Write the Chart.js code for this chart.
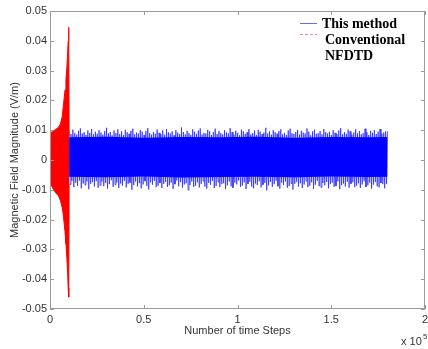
<!DOCTYPE html>
<html>
<head>
<meta charset="utf-8">
<script src="https://cdn.jsdelivr.net/npm/chart.js@4.4.0/dist/chart.umd.min.js"></script>
<style>
  html, body { margin: 0; padding: 0; background: #fff; }
  #wrap { width: 428px; height: 349px; }
</style>
</head>
<body>
<div id="wrap"><canvas id="field"></canvas></div>
<script>
// All field values below are in 1e-3 V/m
const blueStart = 10200;
const blueEnd = 180000;

// peak values of each oscillation of "This method" (upper / lower)
const bluePeaksUp = [
  9.4, 8.7, 10.2, 9.0, 8.5, 9.8, 10.6, 8.9, 9.3, 8.4, 9.9, 9.1, 10.4, 8.6, 9.5, 8.8, 10.0,
  9.2, 8.5, 9.7, 10.8, 8.9, 9.4, 8.3, 9.9, 9.0, 10.3, 8.7, 9.6, 8.4, 10.1, 9.3, 8.8, 9.8,
  10.5, 8.6, 9.2, 8.9, 10.0, 9.5, 8.4, 9.7, 10.7, 9.0, 8.5, 9.4, 8.8, 10.2, 9.1, 8.7, 9.9,
  8.5, 10.4, 9.3, 8.9, 9.6, 8.3, 10.0, 9.2, 8.7, 10.9, 9.4, 8.6, 9.8, 9.0, 8.4, 10.3, 9.5,
  8.8, 9.9, 10.6, 8.5, 9.1, 8.9, 10.1, 9.6, 8.4, 9.3, 10.5, 8.7, 9.7, 9.0, 8.6, 10.0, 9.2,
  8.9, 10.7, 9.4, 8.5, 9.8, 9.1, 8.3, 10.2, 9.6, 8.8, 9.3, 10.4, 8.6, 9.0, 9.9, 8.4, 10.1,
  9.5, 8.7, 9.2, 10.8, 8.9, 9.6, 8.5, 10.0, 9.3, 8.8, 9.7, 10.3, 8.6, 9.1, 8.4, 9.9, 10.5,
  9.0, 8.7, 9.4, 10.1, 8.5, 9.8, 9.2, 8.9, 10.6, 9.5, 8.3, 9.6, 10.2, 8.8, 9.0, 9.7, 8.6,
  10.4, 9.3, 8.9, 9.5, 8.4, 10.0, 9.1, 8.7, 9.9, 10.7, 8.6, 9.4, 8.8, 10.2, 9.6, 8.5, 9.2,
  10.3, 8.9, 9.7, 8.6, 9.0, 10.5, 9.3, 8.4, 9.8, 9.1, 10.0, 8.7, 9.5, 10.4, 8.8, 9.2, 9.6,
];
const bluePeaksDown = [
  -8.2, -7.0, -9.1, -7.6, -8.7, -6.9, -9.5, -7.9, -8.4, -7.2, -9.8, -8.0, -7.4, -8.9, -7.1, -9.3, -8.5,
  -7.3, -8.8, -7.7, -9.6, -8.1, -6.8, -9.0, -8.3, -7.5, -9.4, -7.9, -8.6, -7.0, -9.2, -8.0, -7.6, -10.0,
  -8.4, -7.2, -8.9, -7.8, -9.5, -8.2, -7.1, -8.7, -9.9, -7.5, -8.3, -7.0, -9.1, -8.6, -7.7, -9.4, -8.0,
  -7.3, -9.0, -8.5, -7.6, -9.7, -8.1, -6.9, -8.8, -7.4, -9.3, -8.2, -7.8, -10.1, -8.4, -7.2, -9.0, -8.6,
  -7.5, -9.2, -8.0, -7.1, -8.9, -9.6, -7.7, -8.3, -7.0, -9.4, -8.7, -7.4, -9.1, -8.1, -7.8, -9.8, -8.5,
  -7.2, -8.8, -9.3, -7.6, -8.2, -6.9, -9.0, -8.6, -7.5, -9.7, -8.0, -7.3, -8.9, -9.5, -7.9, -8.4, -7.1,
  -9.2, -8.3, -7.7, -10.2, -8.5, -7.4, -9.0, -8.1, -7.0, -8.8, -9.6, -7.6, -8.4, -7.2, -9.3, -8.7, -7.9,
  -9.9, -8.0, -7.3, -8.9, -7.8, -9.4, -8.2, -7.1, -9.1, -8.6, -7.5, -9.7, -8.3, -7.0, -8.8, -9.2, -7.7,
  -8.5, -7.4, -9.5, -8.1, -7.6, -9.0, -8.7, -7.2, -9.8, -8.4, -7.9, -8.9, -7.3, -9.3, -8.0, -7.5, -9.1,
  -8.6, -7.8, -9.4, -8.2, -7.1, -9.0, -8.5, -7.6, -9.6, -8.3, -7.4, -8.8, -9.2, -7.7, -8.1, -9.5, -8.0,
];

// solid core of the blue band
const blueCoreX = [10200, 30000, 50000, 70000, 90000, 110000, 130000, 150000, 170000, 180000];
const blueCoreUp = [7.6, 7.8, 7.5, 7.7, 7.6, 7.8, 7.5, 7.7, 7.6, 7.7];
const blueCoreDown = [-5.6, -5.8, -5.5, -5.9, -5.7, -5.6, -5.8, -5.5, -5.7, -5.6];

// envelope of "Conventional NFDTD"
const redX = [0, 1500, 3000, 4500, 5500, 6500, 7000, 7500, 8000, 8500, 9000, 9400, 9700, 10000, 10200];
const redUp = [9.0, 9.6, 10.2, 11.0, 12.0, 14.5, 17.5, 20.5, 23.5, 27, 31, 36, 40, 44.5, 8];
const redDown = [-7.5, -9.5, -11, -12, -13.5, -16, -18, -21, -24, -28, -33, -38, -43, -46, -8];

const xTickValues = [0, 50000, 100000, 150000, 200000];

const k = 1e-3;
const pts = (xs, ys) => xs.map((x, i) => ({ x, y: ys[i] * k }));

// one line through every upper and lower peak
function oscillation() {
  const n = bluePeaksUp.length;
  const step = (blueEnd - blueStart) / n;
  const out = [];
  for (let i = 0; i < n; i++) {
    out.push({ x: blueStart + i * step, y: bluePeaksUp[i] * k });
    out.push({ x: blueStart + (i + 0.5) * step, y: bluePeaksDown[i] * k });
  }
  out.push({ x: blueEnd, y: bluePeaksUp[n - 1] * k });
  return out;
}

const flat = { pointRadius: 0, tension: 0, borderWidth: 0 };

// no automatic room for the outer tick labels (the last one is clipped, as in the original)
const noEdgePadding = (s) => {
  s.paddingLeft = 0; s.paddingRight = 0; s.paddingTop = 0; s.paddingBottom = 0;
};

const frame = {
  id: 'frame',
  afterDraw(chart) {
    const { ctx, chartArea: a, scales: { x, y } } = chart;
    ctx.save();
    ctx.strokeStyle = '#9a9a9a';
    ctx.lineWidth = 1;
    ctx.strokeRect(a.left + 0.5, a.top + 0.5, a.right - a.left - 1, a.bottom - a.top - 1);
    ctx.beginPath();
    xTickValues.forEach((v) => {
      const px = Math.round(x.getPixelForValue(v)) + 0.5;
      ctx.moveTo(px, a.bottom); ctx.lineTo(px, a.bottom - 4);
      ctx.moveTo(px, a.top); ctx.lineTo(px, a.top + 4);
    });
    y.ticks.forEach((t) => {
      const py = Math.round(y.getPixelForValue(t.value)) + 0.5;
      ctx.moveTo(a.left, py); ctx.lineTo(a.left + 4, py);
      ctx.moveTo(a.right, py); ctx.lineTo(a.right - 4, py);
    });
    ctx.stroke();

    // legend
    ctx.lineWidth = 1;
    ctx.strokeStyle = '#6a6aff';
    ctx.beginPath(); ctx.moveTo(300, 23.5); ctx.lineTo(317, 23.5); ctx.stroke();
    ctx.strokeStyle = '#f08898';
    ctx.setLineDash([3, 2]);
    ctx.beginPath(); ctx.moveTo(300, 34.5); ctx.lineTo(317, 34.5); ctx.stroke();
    ctx.setLineDash([]);
    ctx.fillStyle = '#000';
    ctx.font = 'bold 14px "Liberation Serif"';
    ctx.textBaseline = 'alphabetic';
    ctx.textAlign = 'left';
    ctx.fillText('This method', 322, 28);
    ctx.fillText('Conventional', 325, 44);
    ctx.fillText('NFDTD', 325, 60);

    // exponent
    ctx.fillStyle = '#333';
    ctx.font = '11px "Liberation Sans"';
    ctx.fillText('x 10', 401, 345);
    ctx.font = '8px "Liberation Sans"';
    ctx.fillText('5', 423, 339);
    ctx.restore();
  }
};

new Chart(document.getElementById('field'), {
  type: 'line',
  data: {
    datasets: [
      { label: 'Conventional NFDTD', data: pts(redX, redUp), fill: '+1', backgroundColor: '#ff0000', borderColor: '#ff0000', order: 0, ...flat, borderWidth: 1 },
      { label: 'red low', data: pts(redX, redDown), fill: false, borderColor: '#ff0000', order: 0, ...flat, borderWidth: 1 },
      { label: 'core up', data: pts(blueCoreX, blueCoreUp), fill: '+1', backgroundColor: '#0000ff', borderColor: '#0000ff', order: 1, ...flat },
      { label: 'core down', data: pts(blueCoreX, blueCoreDown), fill: false, borderColor: '#0000ff', order: 1, ...flat },
      { label: 'This method', data: oscillation(), fill: false, borderColor: 'rgba(40,40,255,0.75)', order: 1, ...flat, borderWidth: 1 },
    ],
  },
  options: {
    animation: false,
    responsive: true,
    maintainAspectRatio: false,
    layout: { autoPadding: false, padding: { top: 11, right: 3, left: 0, bottom: 0 } },
    plugins: { legend: { display: false }, tooltip: { enabled: false } },
    scales: {
      x: {
        type: 'linear',
        min: 0,
        max: 200000,
        afterFit: (s) => { s.height = 40; noEdgePadding(s); },
        afterBuildTicks: (s) => { s.ticks = xTickValues.map((v) => ({ value: v })); },
        grid: { display: false, drawTicks: false },
        border: { display: false },
        ticks: {
          padding: 4,
          color: '#333',
          font: { family: 'Liberation Sans', size: 11 },
          maxRotation: 0,
          callback: (v) => String(v / 100000),
        },
        title: {
          display: true,
          text: 'Number of time Steps',
          color: '#333',
          font: { family: 'Liberation Sans', size: 11 },
          padding: { top: 0, bottom: 11 },
        },
      },
      y: {
        min: -0.05,
        max: 0.05,
        afterFit: (s) => { s.width = 50; noEdgePadding(s); },
        grid: { display: false, drawTicks: false },
        border: { display: false },
        ticks: {
          stepSize: 0.01,
          padding: 3,
          color: '#333',
          font: { family: 'Liberation Sans', size: 11 },
          callback: (v) => (Math.abs(v) < 1e-9 ? '0' : v.toFixed(2)),
        },
        title: {
          display: true,
          text: 'Magnetic Field Magnitude (V/m)',
          color: '#333',
          font: { family: 'Liberation Sans', size: 11 },
          padding: { top: 8, bottom: 0 },
        },
      },
    },
  },
  plugins: [frame],
});
</script>
</body>
</html>
